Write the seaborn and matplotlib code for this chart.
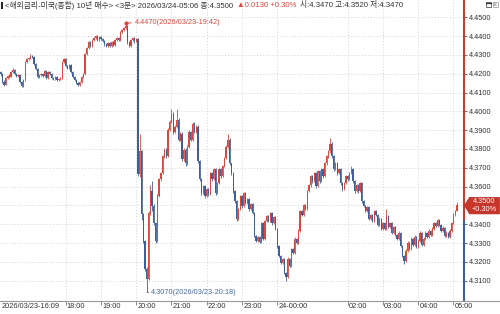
import numpy as np
import pandas as pd
import matplotlib
matplotlib.use("Agg")
import matplotlib.pyplot as plt
import seaborn as sns
from matplotlib.lines import Line2D
from matplotlib.patches import Rectangle, Polygon
import matplotlib.transforms as mtransforms

# ---------------- data (3-minute candles, 2026/03/23 16:09 -> 2026/03/24 05:06) -------------
first_open = 4.4209
close = [
    4.4199, 4.4157, 4.4141, 4.4178, 4.4188, 4.4183, 4.4209, 4.4220, 4.4199, 4.4188,
    4.4194, 4.4157, 4.4135, 4.4167, 4.4262, 4.4278, 4.4283, 4.4294, 4.4289, 4.4252,
    4.4225, 4.4183, 4.4194, 4.4199, 4.4188, 4.4215, 4.4178, 4.4209, 4.4199, 4.4178,
    4.4172, 4.4183, 4.4167, 4.4172, 4.4178, 4.4262, 4.4278, 4.4241, 4.4231, 4.4246,
    4.4209, 4.4183, 4.4167, 4.4151, 4.4141, 4.4157, 4.4183, 4.4199, 4.4305, 4.4336,
    4.4368, 4.4347, 4.4378, 4.4389, 4.4400, 4.4378, 4.4394, 4.4384, 4.4373, 4.4357,
    4.4347, 4.4363, 4.4347, 4.4368, 4.4352, 4.4378, 4.4389, 4.4378, 4.4421, 4.4431,
    4.4442, 4.4452, 4.4368, 4.4347, 4.4378, 4.4389, 4.4373, 4.4384, 4.3665, 4.3787,
    4.3454, 4.3311, 4.3163, 4.3111, 4.3459, 4.3575, 4.3496, 4.3406, 4.3311, 4.3549,
    4.3639, 4.3671, 4.3760, 4.3797, 4.3760, 4.3903, 4.3945, 4.3988, 4.3892, 4.3919,
    4.3956, 4.3850, 4.3882, 4.3745, 4.3797, 4.3723, 4.3813, 4.3892, 4.3850, 4.3935,
    4.3892, 4.3919, 4.3734, 4.3639, 4.3565, 4.3602, 4.3549, 4.3586, 4.3560, 4.3671,
    4.3639, 4.3692, 4.3565, 4.3618, 4.3692, 4.3655, 4.3708, 4.3750, 4.3813, 4.3850,
    4.3723, 4.3671, 4.3575, 4.3523, 4.3428, 4.3480, 4.3549, 4.3496, 4.3565, 4.3512,
    4.3533, 4.3480, 4.3507, 4.3459, 4.3338, 4.3311, 4.3332, 4.3306, 4.3406, 4.3322,
    4.3417, 4.3443, 4.3417, 4.3459, 4.3406, 4.3438, 4.3375, 4.3285, 4.3232, 4.3195,
    4.3216, 4.3142, 4.3121, 4.3216, 4.3179, 4.3269, 4.3248, 4.3322, 4.3301, 4.3364,
    4.3470, 4.3449, 4.3502, 4.3480, 4.3575, 4.3607, 4.3655, 4.3628, 4.3671, 4.3602,
    4.3681, 4.3628, 4.3692, 4.3655, 4.3723, 4.3760, 4.3787, 4.3829, 4.3760, 4.3692,
    4.3723, 4.3671, 4.3692, 4.3618, 4.3586, 4.3618, 4.3655, 4.3639, 4.3671, 4.3692,
    4.3628, 4.3575, 4.3607, 4.3575, 4.3618, 4.3523, 4.3496, 4.3470, 4.3491, 4.3428,
    4.3449, 4.3417, 4.3470, 4.3449, 4.3396, 4.3428, 4.3375, 4.3406, 4.3375, 4.3443,
    4.3385, 4.3406, 4.3354, 4.3385, 4.3343, 4.3322, 4.3354, 4.3285, 4.3232, 4.3206,
    4.3259, 4.3301, 4.3269, 4.3322, 4.3290, 4.3332, 4.3280, 4.3311, 4.3354, 4.3290,
    4.3322, 4.3354, 4.3332, 4.3364, 4.3343, 4.3375, 4.3406, 4.3391, 4.3422, 4.3396,
    4.3364, 4.3380, 4.3338, 4.3354, 4.3332, 4.3364, 4.3406, 4.3449, 4.3470, 4.3500,
]
high = [
    4.4215, 4.4205, 4.4165, 4.4185, 4.4195, 4.4196, 4.4215, 4.4228, 4.4224, 4.4204,
    4.4200, 4.4198, 4.4160, 4.4172, 4.4268, 4.4285, 4.4290, 4.4305, 4.4300, 4.4293,
    4.4258, 4.4230, 4.4200, 4.4206, 4.4204, 4.4222, 4.4220, 4.4215, 4.4214, 4.4204,
    4.4184, 4.4189, 4.4188, 4.4178, 4.4184, 4.4268, 4.4284, 4.4282, 4.4248, 4.4252,
    4.4250, 4.4214, 4.4188, 4.4172, 4.4157, 4.4163, 4.4189, 4.4205, 4.4312, 4.4343,
    4.4375, 4.4373, 4.4385, 4.4396, 4.4408, 4.4405, 4.4400, 4.4399, 4.4390, 4.4378,
    4.4362, 4.4369, 4.4368, 4.4374, 4.4373, 4.4384, 4.4395, 4.4394, 4.4428, 4.4438,
    4.4449, 4.4470, 4.4458, 4.4374, 4.4385, 4.4396, 4.4395, 4.4390, 4.4390, 4.3877,
    4.3795, 4.3460, 4.3318, 4.3170, 4.3470, 4.3610, 4.3630, 4.3505, 4.3412, 4.3560,
    4.3648, 4.3680, 4.3770, 4.3806, 4.3805, 4.3912, 4.3955, 4.4014, 4.3995, 4.3926,
    4.4014, 4.3962, 4.3890, 4.3888, 4.3805, 4.3803, 4.3820, 4.3900, 4.3898, 4.3944,
    4.3942, 4.3926, 4.3925, 4.3740, 4.3645, 4.3610, 4.3608, 4.3594, 4.3592, 4.3680,
    4.3677, 4.3700, 4.3698, 4.3625, 4.3700, 4.3698, 4.3716, 4.3758, 4.3822, 4.3877,
    4.3857, 4.3728, 4.3677, 4.3580, 4.3530, 4.3488, 4.3557, 4.3555, 4.3572, 4.3571,
    4.3540, 4.3538, 4.3514, 4.3512, 4.3464, 4.3344, 4.3338, 4.3338, 4.3414, 4.3412,
    4.3425, 4.3450, 4.3448, 4.3466, 4.3464, 4.3445, 4.3444, 4.3380, 4.3290, 4.3238,
    4.3222, 4.3222, 4.3148, 4.3224, 4.3222, 4.3276, 4.3275, 4.3330, 4.3328, 4.3372,
    4.3478, 4.3476, 4.3510, 4.3508, 4.3583, 4.3615, 4.3663, 4.3661, 4.3679, 4.3677,
    4.3690, 4.3687, 4.3700, 4.3698, 4.3731, 4.3768, 4.3795, 4.3856, 4.3835, 4.3766,
    4.3731, 4.3729, 4.3700, 4.3698, 4.3624, 4.3626, 4.3663, 4.3661, 4.3679, 4.3708,
    4.3698, 4.3634, 4.3615, 4.3613, 4.3626, 4.3624, 4.3529, 4.3502, 4.3498, 4.3497,
    4.3456, 4.3455, 4.3478, 4.3476, 4.3455, 4.3436, 4.3434, 4.3414, 4.3412, 4.3480,
    4.3449, 4.3414, 4.3412, 4.3393, 4.3391, 4.3349, 4.3362, 4.3360, 4.3291, 4.3238,
    4.3267, 4.3309, 4.3307, 4.3330, 4.3328, 4.3340, 4.3338, 4.3319, 4.3362, 4.3360,
    4.3330, 4.3362, 4.3360, 4.3372, 4.3370, 4.3383, 4.3414, 4.3412, 4.3430, 4.3428,
    4.3402, 4.3388, 4.3386, 4.3362, 4.3360, 4.3372, 4.3414, 4.3457, 4.3478, 4.3520,
]
low = [
    4.4190, 4.4150, 4.4135, 4.4138, 4.4172, 4.4176, 4.4180, 4.4203, 4.4193, 4.4182,
    4.4184, 4.4150, 4.4128, 4.4130, 4.4163, 4.4255, 4.4272, 4.4278, 4.4282, 4.4246,
    4.4218, 4.4176, 4.4178, 4.4188, 4.4182, 4.4184, 4.4172, 4.4174, 4.4193, 4.4172,
    4.4166, 4.4167, 4.4160, 4.4162, 4.4168, 4.4174, 4.4256, 4.4236, 4.4225, 4.4226,
    4.4203, 4.4177, 4.4160, 4.4145, 4.4133, 4.4136, 4.4152, 4.4178, 4.4195, 4.4300,
    4.4330, 4.4340, 4.4342, 4.4372, 4.4384, 4.4372, 4.4373, 4.4378, 4.4367, 4.4350,
    4.4340, 4.4342, 4.4341, 4.4343, 4.4346, 4.4348, 4.4373, 4.4372, 4.4374, 4.4415,
    4.4425, 4.4436, 4.4360, 4.4340, 4.4342, 4.4372, 4.4366, 4.4368, 4.3655, 4.3650,
    4.3420, 4.3300, 4.3150, 4.3070, 4.3105, 4.3450, 4.3470, 4.3395, 4.3300, 4.3305,
    4.3542, 4.3632, 4.3665, 4.3752, 4.3750, 4.3755, 4.3896, 4.3938, 4.3882, 4.3885,
    4.3912, 4.3842, 4.3843, 4.3735, 4.3738, 4.3712, 4.3716, 4.3806, 4.3842, 4.3845,
    4.3885, 4.3885, 4.3725, 4.3630, 4.3556, 4.3558, 4.3540, 4.3543, 4.3552, 4.3554,
    4.3632, 4.3633, 4.3556, 4.3558, 4.3612, 4.3648, 4.3650, 4.3702, 4.3745, 4.3806,
    4.3715, 4.3662, 4.3566, 4.3515, 4.3418, 4.3422, 4.3474, 4.3488, 4.3490, 4.3505,
    4.3506, 4.3472, 4.3474, 4.3452, 4.3330, 4.3304, 4.3305, 4.3300, 4.3300, 4.3315,
    4.3316, 4.3411, 4.3410, 4.3412, 4.3398, 4.3400, 4.3368, 4.3276, 4.3225, 4.3188,
    4.3190, 4.3135, 4.3100, 4.3115, 4.3172, 4.3174, 4.3241, 4.3243, 4.3294, 4.3296,
    4.3358, 4.3442, 4.3444, 4.3473, 4.3475, 4.3570, 4.3600, 4.3621, 4.3622, 4.3595,
    4.3596, 4.3620, 4.3622, 4.3648, 4.3650, 4.3717, 4.3754, 4.3781, 4.3752, 4.3684,
    4.3686, 4.3663, 4.3665, 4.3610, 4.3579, 4.3580, 4.3612, 4.3632, 4.3633, 4.3665,
    4.3620, 4.3567, 4.3569, 4.3568, 4.3569, 4.3515, 4.3489, 4.3463, 4.3464, 4.3420,
    4.3422, 4.3410, 4.3411, 4.3442, 4.3388, 4.3390, 4.3368, 4.3369, 4.3368, 4.3369,
    4.3378, 4.3379, 4.3347, 4.3348, 4.3336, 4.3315, 4.3316, 4.3278, 4.3225, 4.3190,
    4.3200, 4.3253, 4.3262, 4.3263, 4.3283, 4.3284, 4.3273, 4.3274, 4.3305, 4.3283,
    4.3284, 4.3316, 4.3325, 4.3326, 4.3336, 4.3337, 4.3369, 4.3384, 4.3385, 4.3389,
    4.3357, 4.3358, 4.3331, 4.3332, 4.3325, 4.3326, 4.3358, 4.3400, 4.3443, 4.3470,
]

xtick_pos = [0, 37, 57, 77, 97, 117, 137, 157, 197, 217, 237, 257]
xtick_labels = ["2026/03/23-16:09", "18:00", "19:00", "20:00", "21:00", "22:00",
                "23:00", "24-00:00", "02:00", "03:00", "04:00", "05:00"]
ytick_vals = [4.31, 4.32, 4.33, 4.34, 4.35, 4.36, 4.37, 4.38, 4.39, 4.40,
              4.41, 4.42, 4.43, 4.44, 4.45]

hi_idx, hi_val, hi_text = 71, 4.4470, "4.4470(2026/03/23-19:42)"
lo_idx, lo_val, lo_text = 83, 4.3070, "4.3070(2026/03/23-20:18)"
last_price, last_pct = 4.3500, "+0.30%"
axis_split = 4.342

title_main = "<해외금리-미국(종합) 10년 매수> <3분> 2026/03/24-05:06 종:4.3500"
title_chg = "▲0.0130 +0.30%"
title_ohl = "시:4.3470 고:4.3520 저:4.3470"

# ---------------- styling ----------------
sns.set_theme(style="white")
plt.rcParams["font.family"] = ["Liberation Sans", "DejaVu Sans", "Noto Sans CJK KR"]

RED = "#d9473d"
BLUE = "#3f5f9c"
TXT = "#333333"
GRID = "#d2d2d2"
FS = 5.3

df = pd.DataFrame({"close": close, "high": high, "low": low})
df["open"] = [first_open] + close[:-1]
df["idx"] = np.arange(len(df))
df["up"] = df["close"] >= df["open"]
df["color"] = np.where(df["up"], RED, BLUE)

W, H = 500, 314
fig = plt.figure(figsize=(W / 100, H / 100), dpi=100)
fig.patch.set_facecolor("white")
ax = fig.add_axes([0, 13 / H, 464 / W, 301 / H])
ax.set_facecolor("white")

px_per_candle = 1.7625
ax.set_xlim(-0.5 / px_per_candle, 463.5 / px_per_candle)
ax.set_ylim(4.45 - (301 - 17.3) / 1881, 4.45 + 17.3 / 1881)

# grid
for v in ytick_vals:
    ax.axhline(v, color=GRID, lw=0.7, ls=(0, (1, 2)), zorder=0)
for p in xtick_pos[1:]:
    ax.axvline(p, color=GRID, lw=0.7, ls=(0, (1, 2)), zorder=0)

# candles
ax.vlines(df["idx"], df["low"], df["high"], colors=df["color"], lw=0.6, zorder=2)
body_bottom = np.minimum(df["open"], df["close"])
body_h = np.maximum(np.abs(df["close"] - df["open"]), 0.0004)
ax.bar(df["idx"], body_h, bottom=body_bottom, width=0.72, color=df["color"],
       linewidth=0, zorder=3)

for s in ax.spines.values():
    s.set_visible(False)

# right axis (label at the last-price level is hidden under the price box)
ax.yaxis.tick_right()
ax.set_yticks(ytick_vals)
ax.set_yticklabels(["" if abs(v - last_price) < 1e-9 else f"{v:.4f}" for v in ytick_vals])
ax.tick_params(axis="y", right=True, length=2.2, width=0.6, color="#555555",
               pad=1.5, labelsize=FS, labelcolor=TXT)
ytr = ax.get_yaxis_transform()
ax.plot([1, 1], [axis_split, ax.get_ylim()[1]], transform=ytr, color="#c83c33",
        lw=1.5, clip_on=False, zorder=5, solid_capstyle="butt")
ax.plot([1, 1], [ax.get_ylim()[0], axis_split], transform=ytr, color=BLUE,
        lw=1.5, clip_on=False, zorder=5, solid_capstyle="butt")

# x axis
ax.set_xticks(xtick_pos)
ax.set_xticklabels(xtick_labels)
ax.tick_params(axis="x", bottom=True, direction="out", length=3.0, width=0.6,
               color="#777777", pad=-1.2, labelsize=FS, labelcolor=TXT)
shift = mtransforms.ScaledTranslation(1.2 / 100, 0, fig.dpi_scale_trans)
for lab in ax.get_xticklabels():
    lab.set_ha("left")
    lab.set_transform(lab.get_transform() + shift)
ax.xaxis.get_major_ticks()[0].tick1line.set_visible(False)
fig.add_artist(Line2D([0, 1], [1 - 301 / H, 1 - 301 / H], color="#999999", lw=0.8))

# annotations of high / low
ax.plot([hi_idx], [hi_val], marker="o", ms=2.0, color=RED, zorder=6)
ax.annotate(hi_text, xy=(hi_idx, hi_val), xytext=(6.3, 0), textcoords="offset points",
            ha="left", va="center", fontsize=FS, color=RED,
            arrowprops=dict(arrowstyle="-", color=RED, lw=0.7, shrinkA=0, shrinkB=0,
                            relpos=(0, 0.5)))
ax.annotate(lo_text, xy=(lo_idx, lo_val), xytext=(3.0, -4.4), textcoords="offset points",
            ha="left", va="center", fontsize=FS, color="#4a6aa3",
            arrowprops=dict(arrowstyle="-", color="#4a6aa3", lw=0.7, shrinkA=0, shrinkB=0,
                            relpos=(0, 0.5),
                            connectionstyle="angle,angleA=0,angleB=90,rad=0"))

# current price box
fig.canvas.draw()
renderer = fig.canvas.get_renderer()
ypix = ax.transData.transform((0, last_price))[1]
yc = ypix / H
def fx(px):
    return px / W
box = Polygon([(fx(464.5), yc), (fx(469.5), yc + 8 / H), (fx(499.5), yc + 8 / H),
               (fx(499.5), yc - 8.5 / H), (fx(469.5), yc - 8.5 / H)],
              closed=True, transform=fig.transFigure, facecolor="#c8352b",
              edgecolor="#b02a22", lw=0.5, zorder=10)
fig.add_artist(box)
fig.text(fx(484.5), yc + 3.8 / H, f"{last_price:.4f}", ha="center", va="center",
         fontsize=FS, color="white", zorder=11)
fig.text(fx(484.5), yc - 4.0 / H, last_pct, ha="center", va="center",
         fontsize=FS, color="white", zorder=11)

# title (pieces chained left to right)
ty = 1 - 5.5 / H
fig.add_artist(Rectangle((fx(1.3), 1 - 9 / H), 1.6 / W, 6.5 / H, transform=fig.transFigure,
                         facecolor="#222222", edgecolor="none"))
t1 = fig.text(fx(5), ty, title_main, ha="left", va="center", fontsize=5.6, color=TXT)
x2 = t1.get_window_extent(renderer).x1 + 3.5
t2 = fig.text(fx(x2), ty, title_chg, ha="left", va="center", fontsize=5.6, color=RED)
x3 = t2.get_window_extent(renderer).x1 + 4.5
fig.text(fx(x3), ty, title_ohl, ha="left", va="center", fontsize=5.6, color=TXT)

# window icons (top right)
fig.add_artist(Rectangle((fx(485.5), 1 - 7 / H), 5 / W, 5 / H, transform=fig.transFigure,
                         facecolor="white", edgecolor="#555555", lw=0.6))
fig.add_artist(Line2D([fx(485.5), fx(490.5)], [1 - 2.6 / H, 1 - 2.6 / H], color="#333333", lw=0.9))
fig.add_artist(Rectangle((fx(492.5), 1 - 7 / H), 5 / W, 5 / H, transform=fig.transFigure,
                         facecolor="white", edgecolor="#aaaaaa", lw=0.6))
fig.add_artist(Line2D([fx(493.5), fx(496.5)], [1 - 6 / H, 1 - 3 / H], color="#999999", lw=0.5))
fig.add_artist(Line2D([fx(493.5), fx(496.5)], [1 - 3 / H, 1 - 6 / H], color="#999999", lw=0.5))

fig.savefig("out.png", dpi=100, facecolor="white")
